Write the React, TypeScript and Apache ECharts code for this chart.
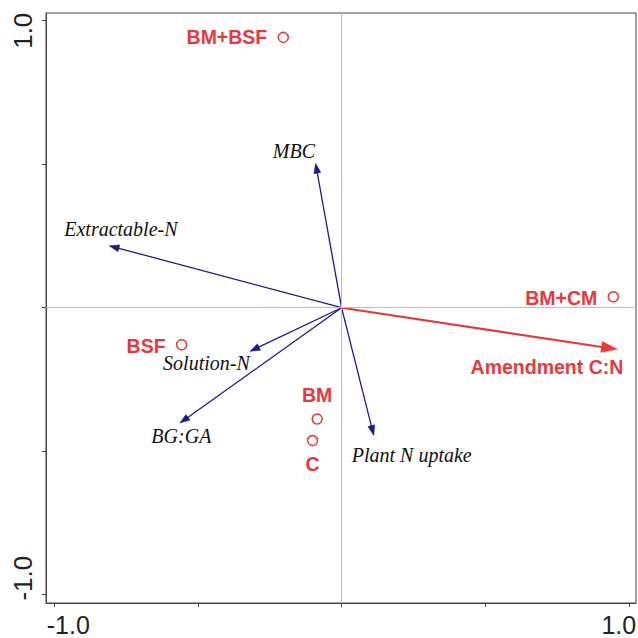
import React, { useEffect, useRef } from "react";
import * as echarts from "echarts";

// ---- data ----
const siteNames = ["BM+BSF", "BM+CM", "BSF", "BM", "C"];
const siteX = [-0.203, 0.946, -0.557, -0.085, -0.101];
const siteY = [0.942, 0.038, -0.129, -0.388, -0.463];

const envNames = ["Extractable-N", "MBC", "Solution-N", "BG:GA", "Plant N uptake"];
const envX = [-0.809, -0.0905, -0.319, -0.563, 0.112];
const envY = [0.216, 0.503, -0.152, -0.402, -0.445];

const suppNames = ["Amendment C:N"];
const suppX = [0.96];
const suppY = [-0.145];

const axisTicks = [-1, -0.5, 0, 0.5, 1];
const axisTickLabels = [-1, 1];

// ---- styling (label placement relative to the point, in px) ----
const RED = "#e6393c";
const BLUE = "#1b1b87";
const siteLabelPlace: Record<string, { align: string; dx: number; dy: number }> = {
  "BM+BSF": { align: "right", dx: -16, dy: 0 },
  "BM+CM": { align: "right", dx: -16, dy: 1 },
  BSF: { align: "right", dx: -16, dy: 1.5 },
  BM: { align: "center", dx: 0, dy: -24 },
  C: { align: "center", dx: 0, dy: 23.5 },
};
const envLabelPlace: Record<string, { dx: number; dy: number }> = {
  "Extractable-N": { dx: 11.7, dy: -16.7 },
  MBC: { dx: -21.7, dy: -12.6 },
  "Solution-N": { dx: -43.5, dy: 11.7 },
  "BG:GA": { dx: 1.5, dy: 13.3 },
  "Plant N uptake": { dx: 38, dy: 19.4 },
  "Amendment C:N": { dx: -70.4, dy: 18 },
};

function arrowRenderer(names: string[], color: string, lw: number, headL: number, headW: number, labelStyle: any) {
  return (params: any, api: any) => {
    const x = api.value(0);
    const y = api.value(1);
    const name = names[params.dataIndex];
    const o = api.coord([0, 0]);
    const t = api.coord([x, y]);
    const dx = t[0] - o[0];
    const dy = t[1] - o[1];
    const len = Math.hypot(dx, dy) || 1;
    const ux = dx / len;
    const uy = dy / len;
    const bx = t[0] - ux * headL;
    const by = t[1] - uy * headL;
    const px = -uy;
    const py = ux;
    const place = envLabelPlace[name] || { dx: 0, dy: 0 };
    return {
      type: "group",
      children: [
        {
          type: "line",
          shape: { x1: o[0], y1: o[1], x2: bx + ux * 2, y2: by + uy * 2 },
          style: { stroke: color, lineWidth: lw },
        },
        {
          type: "polygon",
          shape: {
            points: [
              [t[0], t[1]],
              [bx + (px * headW) / 2, by + (py * headW) / 2],
              [bx - (px * headW) / 2, by - (py * headW) / 2],
            ],
          },
          style: { fill: color, stroke: color, lineWidth: 0.5 },
        },
        {
          type: "text",
          x: t[0] + place.dx,
          y: t[1] + place.dy,
          style: {
            text: name,
            align: "center",
            verticalAlign: "middle",
            ...labelStyle,
          },
        },
      ],
    };
  };
}

export default function App() {
  const ref = useRef<HTMLDivElement>(null);
  useEffect(() => {
    if (!ref.current) return;
    const chart = echarts.init(ref.current, null, { renderer: "svg" });
    const axisCommon = {
      type: "value",
      splitLine: { show: false },
      axisLine: { show: true, onZero: false, lineStyle: { color: "#444", width: 1 } },
      axisTick: {
        show: true,
        inside: false,
        length: 4,
        customValues: axisTicks,
        lineStyle: { color: "#444", width: 1 },
      },
    };
    chart.setOption({
      animation: false,
      backgroundColor: "#fff",
      grid: {
        left: 46,
        right: 2,
        top: 13,
        bottom: 35,
        show: true,
        borderColor: "#444",
        borderWidth: 1,
        backgroundColor: "transparent",
        containLabel: false,
        outerBoundsMode: "none",
      },
      xAxis: {
        ...axisCommon,
        position: "bottom",
        min: -1.029,
        max: 1.025,
        axisLabel: {
          show: true,
          customValues: axisTickLabels,
          margin: 9,
          color: "#222",
          fontFamily: "Liberation Sans",
          fontSize: 25,
          formatter: (v: number) =>
            v < 0 ? `{lo|${v.toFixed(1)}}` : `{hi|${v.toFixed(1)}}`,
          rich: {
            lo: { fontFamily: "Liberation Sans", fontSize: 25, lineHeight: 25, color: "#222", padding: [0, 0, 0, 28] },
            hi: { fontFamily: "Liberation Sans", fontSize: 25, lineHeight: 25, color: "#222", padding: [0, 20, 0, 0] },
          },
        },
      },
      yAxis: {
        ...axisCommon,
        position: "left",
        min: -1.029,
        max: 1.027,
        axisLabel: {
          show: true,
          customValues: axisTickLabels,
          rotate: 90,
          margin: 10,
          color: "#222",
          fontFamily: "Liberation Sans",
          fontSize: 26,
          formatter: (v: number) =>
            v < 0 ? `{lo|${v.toFixed(1)}}` : `{hi|${v.toFixed(1)}}`,
          rich: {
            lo: { fontFamily: "Liberation Sans", fontSize: 26, color: "#222", padding: [0, 0, 0, 33] },
            hi: { fontFamily: "Liberation Sans", fontSize: 26, color: "#222", padding: [0, 20, 0, 0] },
          },
        },
      },
      series: [
        {
          type: "scatter",
          name: "zero",
          data: [],
          silent: true,
          markLine: {
            silent: true,
            symbol: ["none", "none"],
            label: { show: false },
            lineStyle: { color: "#bfbfbf", width: 1, type: "solid" },
            data: [{ xAxis: 0 }, { yAxis: 0 }],
          },
          z: 1,
        },
        {
          type: "custom",
          name: "env",
          z: 3,
          data: envNames.map((n, i) => ({ name: n, value: [envX[i], envY[i]] })),
          renderItem: arrowRenderer(envNames, BLUE, 1.3, 10, 7, {
            fill: "#111",
            fontFamily: "Liberation Serif",
            fontStyle: "italic",
            fontSize: 20,
          }),
        },
        {
          type: "custom",
          name: "supp",
          z: 3,
          data: suppNames.map((n, i) => ({ name: n, value: [suppX[i], suppY[i]] })),
          renderItem: arrowRenderer(suppNames, RED, 2.2, 16, 11, {
            fill: RED,
            fontFamily: "Liberation Sans",
            fontWeight: "bold",
            fontSize: 19.5,
          }),
        },
        {
          type: "scatter",
          name: "sites",
          z: 4,
          symbol: "circle",
          symbolSize: 10,
          itemStyle: { color: "#fff", borderColor: RED, borderWidth: 1.5, opacity: 1 },
          label: {
            show: true,
            position: "inside",
            formatter: (p: any) => p.name,
            color: RED,
            fontFamily: "Liberation Sans",
            fontWeight: "bold",
            fontSize: 19.5,
            verticalAlign: "middle",
          },
          data: siteNames.map((n, i) => {
            const pl = siteLabelPlace[n];
            return {
              name: n,
              value: [siteX[i], siteY[i]],
              label: { align: pl.align, offset: [pl.dx, pl.dy] },
            };
          }),
        },
      ],
    });
    return () => chart.dispose();
  }, []);
  return (
    <div
      ref={ref}
      style={{ position: "fixed", left: 0, top: 0, width: 638, height: 638, background: "#fff" }}
    />
  );
}
